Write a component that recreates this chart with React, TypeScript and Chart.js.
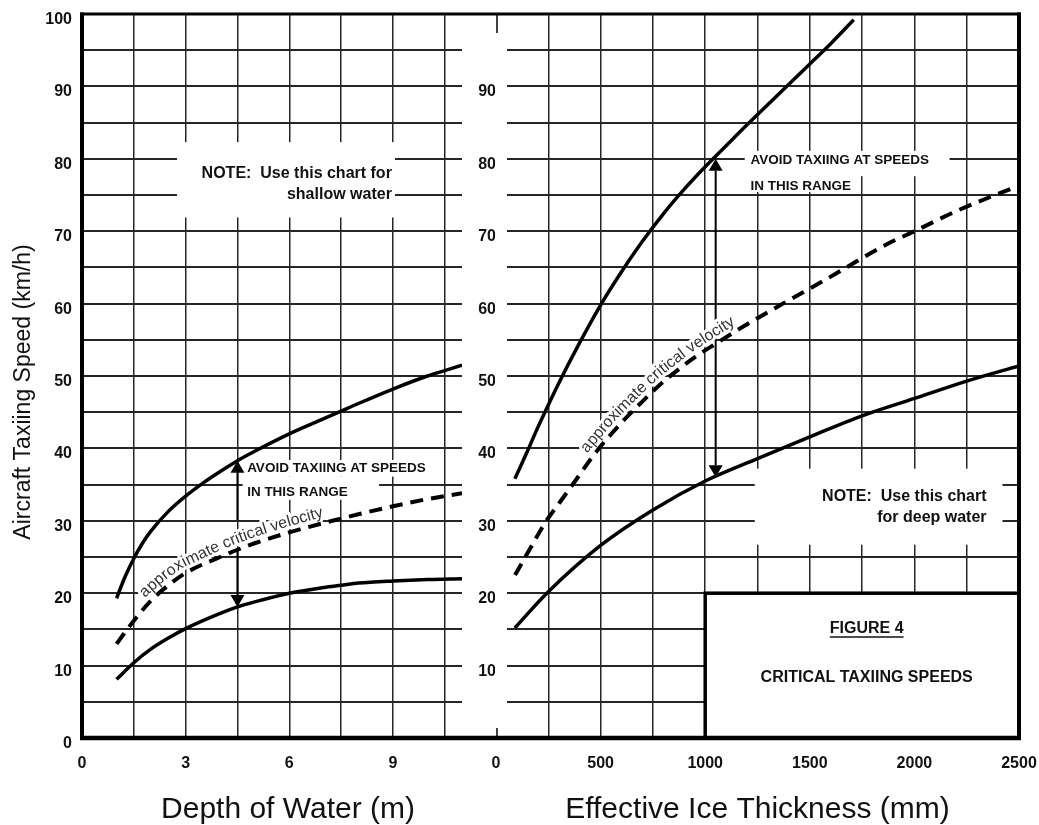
import React, { useEffect, useRef } from 'react';
import { Chart, registerables } from 'chart.js';

Chart.register(...registerables);

// ---------- Axis ticks and labels ----------
const SPEED_TICKS = [0, 5, 10, 15, 20, 25, 30, 35, 40, 45, 50, 55, 60, 65, 70, 75, 80, 85, 90, 95, 100];
const LEFT_SPEED_LABELS = [0, 10, 20, 30, 40, 50, 60, 70, 80, 90, 100];
const RIGHT_SPEED_LABELS = [10, 20, 30, 40, 50, 60, 70, 80, 90];
const DEPTH_TICKS = [0, 1.5, 3, 4.5, 6, 7.5, 9, 10.5];
const DEPTH_LABELS = [0, 3, 6, 9];
const ICE_TICKS = [0, 250, 500, 750, 1000, 1250, 1500, 1750, 2000, 2250, 2500];
const ICE_LABELS = [0, 500, 1000, 1500, 2000, 2500];

// ---------- Left panel: Depth of Water (m) ----------
const DEPTH_UPPER_X = [1, 1.25, 1.5, 1.75, 2, 2.5, 3, 3.5, 4, 4.5, 5, 6, 7, 7.5, 8, 9, 10, 10.5, 11];
const DEPTH_UPPER_Y = [19.3, 22.3, 24.8, 26.9, 28.6, 31.3, 33.4, 35.2, 36.8, 38.3, 39.6, 42.0, 44.1, 45.15, 46.2, 48.2, 50.0, 50.75, 51.5];
const DEPTH_CRIT_X = [1, 1.5, 2, 2.5, 3, 4, 4.5, 5, 6, 7, 7.5, 8, 9, 10, 11];
const DEPTH_CRIT_Y = [13, 16.2, 19.0, 21.1, 22.8, 25.0, 26.0, 26.9, 28.4, 29.7, 30.3, 30.9, 32.0, 33.0, 33.8];
const DEPTH_LOWER_X = [1, 1.5, 2, 2.5, 3, 4, 4.5, 5, 6, 7, 7.5, 8, 9, 10, 11];
const DEPTH_LOWER_Y = [8.1, 10.4, 12.3, 13.8, 15.1, 17.2, 18.1, 18.8, 20.0, 20.8, 21.1, 21.4, 21.7, 21.9, 22.0];

// ---------- Right panel: Effective Ice Thickness (mm) ----------
const ICE_UPPER_X = [90, 150, 200, 250, 300, 400, 500, 600, 700, 800, 900, 1000, 1100, 1200, 1300, 1400, 1500, 1600, 1710];
const ICE_UPPER_Y = [35.8, 39.6, 42.9, 46.0, 49.0, 54.6, 59.8, 64.4, 68.6, 72.4, 75.8, 78.9, 81.8, 84.7, 87.5, 90.3, 93.1, 95.9, 99.2];
const ICE_CRIT_X = [91, 166, 234, 306, 381, 473, 592, 704, 808, 951, 1053, 1180, 1372, 1587, 1675, 1875, 1993, 2218, 2500];
const ICE_CRIT_Y = [22.5, 26.3, 29.7, 32.6, 35.6, 39.3, 43.3, 46.6, 49.4, 52.6, 54.5, 56.8, 60, 63.5, 65, 68.3, 69.9, 73, 76.3];
const ICE_LOWER_X = [90, 250, 500, 750, 1000, 1250, 1500, 1750, 2000, 2250, 2500];
const ICE_LOWER_Y = [15.2, 20.2, 26.6, 31.5, 35.5, 38.6, 41.6, 44.5, 46.9, 49.3, 51.4];

// ---------- Styles / layout ----------
const FAMILY = '"Liberation Sans", Arial, Helvetica, sans-serif';
const GRID = '#262626';
const TICK_FONT = { family: FAMILY, size: 16, weight: 'bold' as const };
const NOTE_FONT = `bold 16px ${FAMILY}`;
const AVOID_FONT = `bold 13.5px ${FAMILY}`;
const FIG_FONT = `bold 16px ${FAMILY}`;
const CURVE_FONT = `16px ${FAMILY}`;
const TITLE_FONT = `30px ${FAMILY}`;
const YTITLE_FONT = `23px ${FAMILY}`;

type TextItem = { x: number; y: number; text: string; align: CanvasTextAlign; font: string; underline?: boolean };
type Panel = {
  side: 'left' | 'right';
  boxes: number[][];
  texts: TextItem[];
  arrows: { x: number; from: number; to: number }[];
  curved: { ds: number; startX: number; offset: number; text: string };
  figureBox?: number[];
  xTitle: string;
  xTitleShift: number;
  yTitle?: string;
};

const LEFT_PANEL: Panel = {
  side: 'left',
  boxes: [
    [2.75, 82.3, 9.06, 71.9],
    [4.65, 38.4, 10.05, 36.1],
    [4.65, 36.1, 8.6, 32.9],
  ],
  texts: [
    { x: 8.97, y: 78.0, text: 'NOTE:  Use this chart for', align: 'right', font: NOTE_FONT },
    { x: 8.97, y: 75.1, text: 'shallow water', align: 'right', font: NOTE_FONT },
    { x: 4.78, y: 37.3, text: 'AVOID TAXIING AT SPEEDS', align: 'left', font: AVOID_FONT },
    { x: 4.78, y: 34.0, text: 'IN THIS RANGE', align: 'left', font: AVOID_FONT },
  ],
  arrows: [
    { x: 4.5, from: 30.1, to: 38.3 },
    { x: 4.5, from: 26.1, to: 18.1 },
  ],
  curved: { ds: 1, startX: 1.95, offset: 6, text: 'approximate critical velocity' },
  xTitle: 'Depth of Water (m)',
  xTitleShift: 16,
  yTitle: 'Aircraft Taxiing Speed (km/h)',
};

const RIGHT_PANEL: Panel = {
  side: 'right',
  boxes: [
    [1189, 81.1, 2168, 77.6],
    [1189, 77.6, 1714, 75.4],
    [1237, 37.2, 2421, 26.7],
  ],
  texts: [
    { x: 1216, y: 79.8, text: 'AVOID TAXIING AT SPEEDS', align: 'left', font: AVOID_FONT },
    { x: 1216, y: 76.2, text: 'IN THIS RANGE', align: 'left', font: AVOID_FONT },
    { x: 2345, y: 33.3, text: 'NOTE:  Use this chart', align: 'right', font: NOTE_FONT },
    { x: 2345, y: 30.4, text: 'for deep water', align: 'right', font: NOTE_FONT },
    { x: 1772, y: 15.05, text: 'FIGURE 4', align: 'center', font: FIG_FONT, underline: true },
    { x: 1772, y: 8.4, text: 'CRITICAL TAXIING SPEEDS', align: 'center', font: FIG_FONT },
  ],
  arrows: [
    { x: 1050, from: 58, to: 80 },
    { x: 1050, from: 58, to: 36 },
  ],
  curved: { ds: 1, startX: 460, offset: 6, text: 'approximate critical velocity' },
  figureBox: [1000, 20, 2500, 0],
  xTitle: 'Effective Ice Thickness (mm)',
  xTitleShift: 0,
};

function line(ctx: CanvasRenderingContext2D, x0: number, y0: number, x1: number, y1: number) {
  ctx.beginPath();
  ctx.moveTo(x0, y0);
  ctx.lineTo(x1, y1);
  ctx.stroke();
}

function drawArrow(ctx: CanvasRenderingContext2D, x: number, y0: number, y1: number) {
  const dir = Math.sign(y1 - y0);
  const hl = 12;
  const hw = 7;
  ctx.strokeStyle = '#000';
  ctx.fillStyle = '#000';
  ctx.lineWidth = 2;
  line(ctx, x, y0, x, y1 - dir * hl);
  ctx.beginPath();
  ctx.moveTo(x, y1);
  ctx.lineTo(x - hw, y1 - dir * hl);
  ctx.lineTo(x + hw, y1 - dir * hl);
  ctx.closePath();
  ctx.fill();
}

function drawCurved(chart: any, ds: number, startX: number, offset: number, text: string) {
  const ctx: CanvasRenderingContext2D = chart.ctx;
  const meta = chart.getDatasetMeta(ds);
  const pts = meta.data.map((e: any) => ({ x: e.x, y: e.y }));
  const cum = [0];
  for (let i = 1; i < pts.length; i++) {
    cum.push(cum[i - 1] + Math.hypot(pts[i].x - pts[i - 1].x, pts[i].y - pts[i - 1].y));
  }
  const at = (s: number) => {
    let i = 1;
    while (i < pts.length - 1 && cum[i] < s) i++;
    const seg = cum[i] - cum[i - 1] || 1;
    const t = (s - cum[i - 1]) / seg;
    return { x: pts[i - 1].x + (pts[i].x - pts[i - 1].x) * t, y: pts[i - 1].y + (pts[i].y - pts[i - 1].y) * t };
  };
  const sx = chart.scales.x.getPixelForValue(startX);
  let s0 = 0;
  for (let i = 1; i < pts.length; i++) {
    if (pts[i].x >= sx) {
      const t = (sx - pts[i - 1].x) / (pts[i].x - pts[i - 1].x || 1);
      s0 = cum[i - 1] + t * (cum[i] - cum[i - 1]);
      break;
    }
  }
  ctx.font = CURVE_FONT;
  ctx.textAlign = 'center';
  ctx.textBaseline = 'alphabetic';
  const glyphs: { ch: string; x: number; y: number; a: number }[] = [];
  let s = s0;
  for (const ch of text) {
    const w = ctx.measureText(ch).width;
    const mid = s + w / 2;
    const p = at(mid);
    const a0 = at(mid - 8);
    const a1 = at(mid + 8);
    const ang = Math.atan2(a1.y - a0.y, a1.x - a0.x);
    glyphs.push({ ch, x: p.x + Math.sin(ang) * offset, y: p.y - Math.cos(ang) * offset, a: ang });
    s += w;
  }
  for (const pass of [0, 1]) {
    for (const g of glyphs) {
      ctx.save();
      ctx.translate(g.x, g.y);
      ctx.rotate(g.a);
      if (pass === 0) {
        ctx.strokeStyle = '#fff';
        ctx.lineWidth = 6;
        ctx.lineJoin = 'round';
        ctx.strokeText(g.ch, 0, 0);
      } else {
        ctx.fillStyle = '#333';
        ctx.fillText(g.ch, 0, 0);
      }
      ctx.restore();
    }
  }
}

function panelPlugin(p: Panel) {
  return {
    id: 'panel_' + p.side,
    beforeDatasetsDraw(chart: any) {
      const { ctx, chartArea: a } = chart;
      const xs = chart.scales.x;
      const ys = chart.scales.y;
      ctx.save();
      ctx.fillStyle = '#fff';
      for (const [x0, y0, x1, y1] of p.boxes) {
        const px0 = xs.getPixelForValue(x0);
        const px1 = xs.getPixelForValue(x1);
        const py0 = ys.getPixelForValue(y0);
        const py1 = ys.getPixelForValue(y1);
        ctx.fillRect(Math.min(px0, px1), Math.min(py0, py1), Math.abs(px1 - px0), Math.abs(py1 - py0));
      }
      if (p.side === 'right') {
        ctx.fillRect(a.left - 1, a.top + 2, 12, a.bottom - a.top - 4);
      }
      if (p.figureBox) {
        const [x0, y0, x1, y1] = p.figureBox;
        const px0 = xs.getPixelForValue(x0);
        const px1 = xs.getPixelForValue(x1);
        const py0 = ys.getPixelForValue(y0);
        const py1 = ys.getPixelForValue(y1);
        ctx.fillStyle = '#fff';
        ctx.fillRect(px0, py0, px1 - px0, py1 - py0);
        ctx.strokeStyle = '#000';
        ctx.lineWidth = 3.5;
        ctx.strokeRect(px0, py0, px1 - px0, py1 - py0);
      }
      for (const ar of p.arrows) {
        const px = xs.getPixelForValue(ar.x);
        drawArrow(ctx, px, ys.getPixelForValue(ar.from), ys.getPixelForValue(ar.to));
      }
      drawCurved(chart, p.curved.ds, p.curved.startX, p.curved.offset, p.curved.text);
      ctx.restore();
    },
    afterDatasetsDraw(chart: any) {
      const { ctx, chartArea: a } = chart;
      const xs = chart.scales.x;
      const ys = chart.scales.y;
      ctx.save();
      ctx.fillStyle = '#111';
      ctx.strokeStyle = '#111';
      ctx.textBaseline = 'middle';
      for (const t of p.texts) {
        const px = xs.getPixelForValue(t.x);
        const py = ys.getPixelForValue(t.y);
        ctx.font = t.font;
        ctx.textAlign = t.align;
        ctx.fillText(t.text, px, py);
        if (t.underline) {
          const w = ctx.measureText(t.text).width;
          const lx = t.align === 'center' ? px - w / 2 : t.align === 'right' ? px - w : px;
          ctx.lineWidth = 1.5;
          line(ctx, lx, py + 8, lx + w, py + 8);
        }
      }
      // frame
      ctx.strokeStyle = '#000';
      if (p.side === 'left') {
        ctx.lineWidth = 4;
        line(ctx, a.left, a.top - 1.5, a.left, a.bottom + 2);
        ctx.lineWidth = 3;
        line(ctx, a.left - 2, a.top, chart.width, a.top);
        ctx.lineWidth = 4.5;
        line(ctx, a.left - 2, a.bottom, chart.width, a.bottom);
      } else {
        ctx.lineWidth = 3;
        line(ctx, 0, a.top, a.right + 2, a.top);
        ctx.lineWidth = 4.5;
        line(ctx, 0, a.bottom, a.right + 2, a.bottom);
        ctx.lineWidth = 4;
        line(ctx, a.right, a.top - 1.5, a.right, a.bottom + 2);
        ctx.lineWidth = 1.5;
        line(ctx, a.left + 1, a.top, a.left + 1, a.top + 19);
        line(ctx, a.left + 1, a.bottom - 10, a.left + 1, a.bottom);
      }
      // axis titles
      ctx.fillStyle = '#111';
      ctx.font = TITLE_FONT;
      ctx.textAlign = 'center';
      ctx.textBaseline = 'alphabetic';
      ctx.fillText(p.xTitle, (a.left + a.right) / 2 + p.xTitleShift, 818);
      if (p.yTitle) {
        ctx.font = YTITLE_FONT;
        ctx.translate(30, (a.top + a.bottom) / 2 + 16);
        ctx.rotate(-Math.PI / 2);
        ctx.fillText(p.yTitle, 0, 0);
      }
      ctx.restore();
    },
  };
}

function series(xs: number[], ys: number[], dashed: boolean) {
  return {
    data: xs.map((x, i) => ({ x, y: ys[i] })),
    borderColor: '#000',
    borderWidth: dashed ? 4 : 3.5,
    borderDash: dashed ? [13, 8] : [],
    borderCapStyle: 'butt' as const,
    pointRadius: 0,
    pointHoverRadius: 0,
    cubicInterpolationMode: 'monotone' as const,
    fill: false,
  };
}

function zeroPadding(s: any) {
  s.paddingLeft = 0;
  s.paddingRight = 0;
  s.paddingTop = 0;
  s.paddingBottom = 0;
}

function buildConfig(opts: {
  datasets: any[];
  xMin: number;
  xMax: number;
  xTicks: number[];
  xLabels: number[];
  yLabels: number[];
  yAxisWidth: number;
  yPad: number;
  padRight: number;
  hideXZeroGrid: boolean;
  plugin: any;
}): any {
  return {
    type: 'line',
    data: { datasets: opts.datasets },
    plugins: [opts.plugin],
    options: {
      responsive: false,
      animation: false,
      events: [],
      layout: { padding: { left: 0, right: opts.padRight, top: 14, bottom: 0 } },
      plugins: { legend: { display: false }, tooltip: { enabled: false } },
      scales: {
        x: {
          type: 'linear',
          min: opts.xMin,
          max: opts.xMax,
          afterBuildTicks: (s: any) => {
            s.ticks = opts.xTicks.map((v) => ({ value: v }));
          },
          afterFit: (s: any) => {
            s.height = 87;
            zeroPadding(s);
          },
          border: { display: false },
          grid: {
            drawTicks: false,
            lineWidth: 1.5,
            color: (c: any) => (opts.hideXZeroGrid && c.tick && c.tick.value === 0 ? 'rgba(0,0,0,0)' : GRID),
          },
          ticks: {
            autoSkip: false,
            maxRotation: 0,
            padding: 16,
            color: '#111',
            font: TICK_FONT,
            callback: (v: any) => (opts.xLabels.includes(Number(v)) ? String(v) : ''),
          },
        },
        y: {
          type: 'linear',
          min: 0,
          max: 100,
          afterBuildTicks: (s: any) => {
            s.ticks = SPEED_TICKS.map((v) => ({ value: v }));
          },
          afterFit: (s: any) => {
            s.width = opts.yAxisWidth;
            zeroPadding(s);
          },
          border: { display: false },
          grid: { drawTicks: false, lineWidth: 2, color: GRID },
          ticks: {
            autoSkip: false,
            padding: opts.yPad,
            labelOffset: 5.5,
            color: '#111',
            font: TICK_FONT,
            callback: (v: any) => (opts.yLabels.includes(Number(v)) ? String(v) : ''),
          },
        },
      },
    },
  };
}

export default function App() {
  const leftRef = useRef<HTMLCanvasElement>(null);
  const rightRef = useRef<HTMLCanvasElement>(null);

  useEffect(() => {
    const left = new Chart(
      leftRef.current as HTMLCanvasElement,
      buildConfig({
        datasets: [
          series(DEPTH_UPPER_X, DEPTH_UPPER_Y, false),
          series(DEPTH_CRIT_X, DEPTH_CRIT_Y, true),
          series(DEPTH_LOWER_X, DEPTH_LOWER_Y, false),
        ],
        xMin: 0,
        xMax: 11,
        xTicks: DEPTH_TICKS,
        xLabels: DEPTH_LABELS,
        yLabels: LEFT_SPEED_LABELS,
        yAxisWidth: 82,
        yPad: 10,
        padRight: 2,
        hideXZeroGrid: false,
        plugin: panelPlugin(LEFT_PANEL),
      })
    );
    const right = new Chart(
      rightRef.current as HTMLCanvasElement,
      buildConfig({
        datasets: [
          series(ICE_UPPER_X, ICE_UPPER_Y, false),
          series(ICE_CRIT_X, ICE_CRIT_Y, true),
          series(ICE_LOWER_X, ICE_LOWER_Y, false),
        ],
        xMin: 0,
        xMax: 2500,
        xTicks: ICE_TICKS,
        xLabels: ICE_LABELS,
        yLabels: RIGHT_SPEED_LABELS,
        yAxisWidth: 32,
        yPad: 0,
        padRight: 20,
        hideXZeroGrid: true,
        plugin: panelPlugin(RIGHT_PANEL),
      })
    );
    return () => {
      left.destroy();
      right.destroy();
    };
  }, []);

  return (
    <div style={{ position: 'absolute', left: 0, top: 0, width: 1039, height: 825, background: '#fff', overflow: 'hidden' }}>
      <canvas ref={leftRef} width={464} height={825} style={{ position: 'absolute', left: 0, top: 0, width: 464, height: 825 }} />
      <canvas ref={rightRef} width={575} height={825} style={{ position: 'absolute', left: 464, top: 0, width: 575, height: 825 }} />
    </div>
  );
}
